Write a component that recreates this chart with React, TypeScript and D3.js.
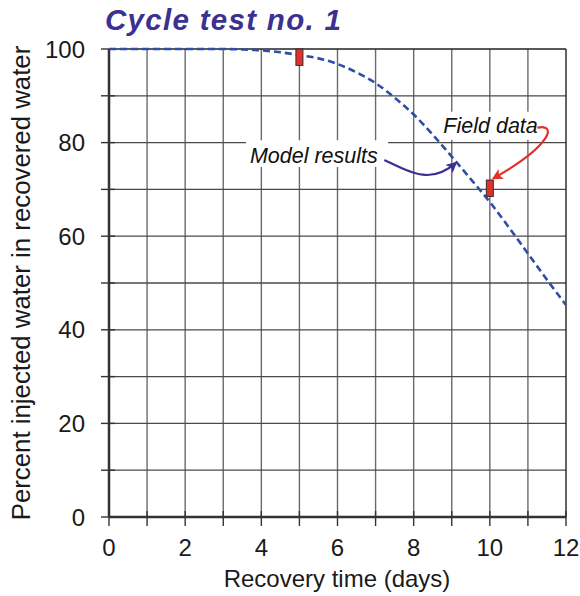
import React from "react";
import * as d3 from "d3";

// model curve
const modelDays = [0, 0.5, 1, 1.5, 2, 2.5, 3, 3.5, 4, 4.5, 5, 5.5, 6, 6.5, 7, 7.5, 8, 8.5, 9, 9.5, 10, 10.5, 11, 11.5, 12];
const modelPct = [100, 100, 100, 100, 100, 100, 100, 99.9, 99.7, 99.3, 98.7, 98, 96.8, 95, 92.7, 89.6, 86, 81.7, 77, 72.2, 67.3, 61.9, 56.3, 50.7, 45.3];

// field data ranges
const fieldDays = [5, 10];
const fieldLow = [96.5, 68.5];
const fieldHigh = [100, 72];

const xTickLabels = [0, 2, 4, 6, 8, 10, 12];
const yTickLabels = [0, 20, 40, 60, 80, 100];

const FONT = "'Liberation Sans', Arial, Helvetica, sans-serif";
const PURPLE = "#3a3192";
const RED = "#e2302a";

const App = () => {
  const x = d3.scaleLinear().domain([0, 12]).range([109, 566]);
  const y = d3.scaleLinear().domain([0, 100]).range([517, 49]);

  const line = d3
    .line<number>()
    .x((d, i) => x(modelDays[i]))
    .y((d) => y(d))
    .curve(d3.curveMonotoneX);

  const dayGrid = d3.range(1, 12);
  const pctGrid = d3.range(10, 100, 10);
  const dayTicks = d3.range(0, 13);
  const pctTicks = d3.range(0, 101, 10);

  // annotation anchors
  const mStart = [x(7.23), y(76.3)];
  const mEnd = [x(9.1), y(75.6)];
  const fStart = [x(11.25), y(83.2)];
  const fEnd = [x(10.1), y(72.4)];

  return (
    <svg width={580} height={596} style={{ position: "absolute", left: 0, top: 0, background: "#fff" }}>
      <defs>
        <marker id="ahP" viewBox="0 0 10 10" refX="8" refY="5" markerWidth="5" markerHeight="5" orient="auto">
          <path d="M0,0 L10,5 L0,10 L2.5,5 Z" fill={PURPLE} />
        </marker>
        <marker id="ahR" viewBox="0 0 10 10" refX="8" refY="5" markerWidth="5" markerHeight="5" orient="auto">
          <path d="M0,0 L10,5 L0,10 L2.5,5 Z" fill={RED} />
        </marker>
      </defs>

      {/* grid */}
      {dayGrid.map((d) => (
        <line key={"vx" + d} x1={x(d)} x2={x(d)} y1={y(0)} y2={y(100)} stroke="#6a6a6a" strokeWidth={1.4} />
      ))}
      {pctGrid.map((p) => (
        <line key={"hy" + p} x1={x(0)} x2={x(12)} y1={y(p)} y2={y(p)} stroke="#4a4a4a" strokeWidth={1.3} />
      ))}
      <line x1={x(0)} x2={x(12)} y1={y(100)} y2={y(100)} stroke="#222" strokeWidth={1.4} />
      <line x1={x(12)} x2={x(12)} y1={y(0)} y2={y(100)} stroke="#222" strokeWidth={1.4} />

      {/* axes */}
      <line x1={x(0)} x2={x(0)} y1={y(0)} y2={y(100)} stroke="#333" strokeWidth={2.5} />
      <line x1={x(0)} x2={x(12)} y1={y(0)} y2={y(0)} stroke="#333" strokeWidth={2.5} />
      {pctTicks.map((p) => (
        <line key={"ty" + p} x1={x(0) - 8} x2={x(0) + 6} y1={y(p)} y2={y(p)} stroke="#333" strokeWidth={1.4} />
      ))}
      {dayTicks.map((d) => (
        <line key={"tx" + d} x1={x(d)} x2={x(d)} y1={y(0) - 6} y2={y(0) + 9} stroke="#333" strokeWidth={1.4} />
      ))}

      {/* tick labels */}
      <g fontFamily={FONT} fontSize={24} fill="#1a1a1a">
        {yTickLabels.map((p) => (
          <text key={"ly" + p} x={85} y={y(p) + 8.5} textAnchor="end">
            {p}
          </text>
        ))}
        {xTickLabels.map((d) => (
          <text key={"lx" + d} x={x(d)} y={556} textAnchor="middle">
            {d}
          </text>
        ))}
        <text x={337} y={587} textAnchor="middle">
          Recovery time (days)
        </text>
        <text transform={`translate(29.5,${283}) rotate(-90)`} textAnchor="middle" fontSize={25.8}>
          Percent injected water in recovered water
        </text>
      </g>

      {/* title */}
      <text x={105} y={30} fontFamily={FONT} fontSize={29.5} fontWeight="bold" fontStyle="italic" fill={PURPLE} letterSpacing={1.3}>
        Cycle test no. 1
      </text>

      {/* model curve */}
      <path d={line(modelPct) || ""} fill="none" stroke="#2f4ea6" strokeWidth={2.6} strokeDasharray="7,4" />

      {/* field data */}
      {fieldDays.map((d, i) => (
        <rect
          key={"f" + d}
          x={x(d) - 3.5}
          y={y(fieldHigh[i])}
          width={7}
          height={y(fieldLow[i]) - y(fieldHigh[i])}
          fill={RED}
          stroke="#3a2a2a"
          strokeWidth={1}
        />
      ))}

      {/* annotation boxes */}
      <rect x={x(3.6)} y={y(80.5)} width={x(7.33) - x(3.6)} height={y(74.8) - y(80.5)} fill="#fff" />
      <rect x={x(8.7)} y={y(86.6)} width={x(11.3) - x(8.7)} height={y(80.6) - y(86.6)} fill="#fff" />

      <g fontFamily={FONT} fontSize={21.5} fontStyle="italic" fill="#111">
        <text x={x(3.7)} y={y(75.6)}>Model results</text>
        <text x={x(8.78)} y={y(82)}>Field data</text>
      </g>

      <path
        d={`M${mStart[0]},${mStart[1]} C${mStart[0] + 25},${mStart[1] + 12} ${mEnd[0] - 25},${mEnd[1] + 22} ${mEnd[0]},${mEnd[1]}`}
        fill="none"
        stroke={PURPLE}
        strokeWidth={2.2}
        markerEnd="url(#ahP)"
      />
      <path
        d={`M${fStart[0]},${fStart[1]} C${fStart[0] + 20},${fStart[1] - 4} ${fStart[0] + 14},${fStart[1] + 18} ${fEnd[0]},${fEnd[1]}`}
        fill="none"
        stroke={RED}
        strokeWidth={2.2}
        markerEnd="url(#ahR)"
      />
    </svg>
  );
};

export default App;
